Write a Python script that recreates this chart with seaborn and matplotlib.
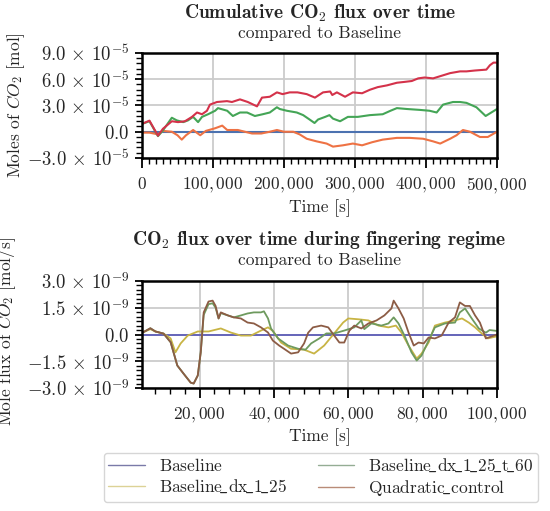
import numpy as np
import pandas as pd
import matplotlib
matplotlib.use("Agg")
import matplotlib.pyplot as plt
import seaborn as sns
from matplotlib.ticker import MultipleLocator, FuncFormatter
from matplotlib.lines import Line2D

# -------- data --------
# top panel: cumulative CO2 difference vs Baseline, values in 1e-5 mol
t_base_cum = [0, 500000]
v_base_cum = [0.0, 0.0]

t_dx_cum = [0, 10500, 22500, 29500, 42000, 50000, 56000, 62000, 72000, 82000, 90000,
            103000, 113000, 120000, 135000, 145000, 155000, 168000, 180000, 190000,
            200000, 213000, 222000, 232000, 246000, 260000, 269000, 283000, 297000,
            310000, 324000, 339000, 359000, 377000, 396000, 410000, 420000, 434000,
            443000, 452000, 462000, 476000, 487000, 500000]
v_dx_cum = [-0.1, -0.1, -0.3, 0.1, 0.0, -0.4, -0.9, -0.4, 0.2, -0.4, 0.1,
            0.4, 0.7, 0.2, 0.2, 0.0, -0.2, -0.2, 0.0, 0.2,
            0.0, 0.0, -0.3, -0.8, -1.1, -1.35, -1.7, -1.55, -1.35,
            -1.55, -1.2, -0.9, -0.7, -0.7, -0.8, -1.1, -1.35, -0.8,
            -0.4, 0.2, 0.0, -0.6, -0.6, 0.0]

t_t60_cum = [0, 10500, 22500, 29500, 42000, 49000, 58000, 64800, 72000, 79000, 84500,
             93000, 103000, 107000, 120000, 128000, 138000, 148000, 159000, 170000,
             180000, 190000, 194000, 204000, 218000, 227000, 236000, 243000, 248000,
             258000, 264000, 269000, 279000, 290000, 304000, 321000, 339000, 350000,
             359000, 373000, 391000, 405000, 415000, 424000, 438000, 448000, 457000,
             471000, 484000, 500000]
v_t60_cum = [0.9, 1.2, -0.5, 0.15, 1.6, 1.3, 1.1, 1.3, 1.7, 1.1, 1.7,
             2.0, 2.4, 2.7, 2.4, 1.8, 2.2, 2.2, 1.8, 2.0,
             2.2, 2.8, 2.6, 2.4, 2.2, 1.9, 1.4, 1.0, 1.4,
             1.7, 1.9, 1.5, 1.2, 1.7, 1.7, 1.9, 2.0, 2.4,
             2.7, 2.6, 2.5, 2.4, 2.2, 3.1, 3.4, 3.4, 3.3,
             2.8, 1.8, 2.6]

t_quad_cum = [0, 10500, 22500, 29500, 42000, 50700, 60500, 70400, 77500, 84500, 91500,
              95700, 105600, 119700, 126700, 138000, 149000, 162000, 169000, 180000,
              190000, 198000, 208000, 219000, 232000, 243600, 255000, 265000, 268000,
              274500, 286000, 297000, 310000, 321000, 332000, 345000, 359000, 370000,
              380000, 389000, 398000, 410000, 422000, 434000, 448000, 457000, 469000,
              485000, 490000, 495000, 500000]
v_quad_cum = [0.9, 1.27, -0.45, 0.34, 1.2, 1.1, 1.2, 1.7, 2.2, 2.0, 2.4,
              3.1, 3.4, 3.5, 3.4, 3.7, 3.4, 2.9, 3.9, 4.0,
              4.5, 4.3, 4.5, 4.5, 4.3, 3.9, 4.5, 4.6, 4.2,
              4.5, 4.0, 4.5, 4.4, 4.8, 5.1, 5.3, 5.6, 5.7,
              5.8, 6.1, 6.2, 6.1, 6.4, 6.7, 6.9, 6.9, 7.0,
              7.1, 7.6, 7.9, 7.9]

# bottom panel: CO2 flux difference vs Baseline, values in 1e-9 mol/s
t_base_flux = [4500, 100000]
v_base_flux = [0.0, 0.0]

t_dx_flux = [4850, 6750, 8100, 10300, 12200, 13500, 14900, 16800, 19500, 22400, 25700,
             28400, 31100, 33800, 36500, 38400, 39700, 41900, 44600, 48100, 50800,
             53500, 56200, 58600, 60000, 62900, 65400, 68100, 70800, 72800, 74300,
             76200, 78400, 79700, 81600, 83300, 86000, 88700, 90600, 92400, 94100,
             95900, 97500, 100000]
v_dx_flux = [0.13, 0.3, 0.17, 0.05, -0.22, -1.0, -0.5, -0.06, 0.17, 0.17, 0.34,
             0.11, -0.06, -0.06, 0.22, 0.4, 0.2, -0.45, -0.8, -0.85, -1.07,
             -0.62, 0.06, 0.67, 0.9, 0.85, 0.79, 0.5, 0.4, 0.5, 0.11,
             -0.62, -1.35, -1.07, -0.45, 0.5, 0.67, 0.79, 0.9, 0.67, 0.4,
             0.06, -0.22, -0.1]

t_t60_flux = [4850, 6750, 8100, 10300, 12200, 14000, 15700, 17600, 18400, 19500, 20300,
              21100, 22400, 23500, 24300, 25100, 25700, 27600, 29200, 31100, 32900,
              34600, 36500, 37300, 38400, 39200, 41100, 43800, 46500, 48500, 50000,
              52200, 54100, 56200, 58900, 61600, 63500, 64300, 66200, 68900, 70800,
              72200, 73500, 75100, 77000, 78400, 79700, 81600, 83300, 86000, 88700,
              90000, 91400, 93200, 95100, 97000, 98000, 100000]
v_t60_flux = [0.13, 0.35, 0.17, 0.05, -0.43, -1.74, -2.2, -2.7, -2.75, -2.3, -1.0,
              1.1, 1.7, 1.75, 1.5, 0.9, 1.2, 1.07, 0.96, 1.07, 1.18,
              1.24, 1.24, 1.3, 0.9, 0.34, -0.22, -0.62, -0.8, -0.85, -0.5,
              -0.22, 0.06, 0.06, 0.22, 0.4, 0.79, 0.3, 0.62, 0.5, 0.62,
              0.96, 0.62, -0.06, -1.0, -1.46, -1.18, -0.34, 0.4, 0.62, 0.67,
              1.24, 1.46, 0.9, 0.34, 0.1, 0.25, 0.2]

t_quad_flux = [4850, 6750, 8100, 10300, 12200, 14000, 15700, 17600, 18400, 19500, 20300,
               21100, 22400, 23500, 24300, 25100, 25700, 27600, 29200, 31100, 32900,
               34600, 36500, 38400, 39700, 41400, 42700, 44600, 46500, 48100, 49200,
               50500, 52700, 54600, 56200, 57600, 58900, 60300, 61600, 63500, 65400,
               67600, 69700, 71600, 72200, 73500, 74900, 76200, 77600, 78900, 80300,
               81600, 83300, 85100, 87000, 88700, 90000, 91400, 92700, 94100, 95400,
               97000, 100000]
v_quad_flux = [0.13, 0.35, 0.17, 0.05, -0.43, -1.74, -2.2, -2.7, -2.75, -2.3, -1.0,
               1.24, 1.85, 1.9, 1.6, 0.9, 1.24, 1.07, 0.96, 0.9, 0.67,
               0.62, 0.4, 0.11, -0.34, -0.62, -0.8, -1.07, -1.0, -0.5, 0.1,
               0.4, 0.5, 0.4, -0.06, -0.45, -0.45, 0.22, 0.5, 0.34, 0.62,
               0.79, 1.07, 1.46, 1.9, 1.46, 0.9, 0.11, -0.62, -0.45, -0.5,
               -0.17, -0.22, -0.06, 0.67, 0.96, 1.8, 1.6, 1.6, 1.07, 0.67,
               -0.22, 0.0]

series_names = ["Baseline", "Baseline_dx_1_25", "Baseline_dx_1_25_t_60", "Quadratic_control"]
top_colors = ["#4c72b0", "#ee7244", "#44a556", "#d4324a"]
bottom_colors = ["#5d5db8", "#c8b444", "#6e9a5e", "#8c5c45"]
legend_colors = ["#7a7aa8", "#dcd296", "#94ad94", "#b98c78"]

# -------- style --------
sns.set_theme(style="whitegrid")
plt.rcParams["font.family"] = ["cmr10", "DejaVu Serif"]
plt.rcParams["mathtext.fontset"] = "cm"
plt.rcParams["axes.unicode_minus"] = False
plt.rcParams["axes.formatter.use_mathtext"] = True
FS = 12.5
FS_Y = 13.5
FS_TITLE = 14


def sci_fmt(exp):
    def f(v, pos):
        m = v / 10.0 ** exp
        if abs(m) < 1e-9:
            return r"$0.0$"
        return r"$%.1f\,\times\,10^{%d}$" % (m, exp)
    return FuncFormatter(f)


def thou_fmt(v, pos):
    return r"$%s$" % f"{int(round(v)):,}"


def style_axes(ax):
    for s in ax.spines.values():
        s.set_color("black")
        s.set_linewidth(1.8)
    ax.grid(True, which="major", color="#cccccc", lw=1.3)
    ax.grid(False, which="minor")
    ax.tick_params(axis="x", which="major", direction="out", length=7, width=1.3,
                   color="black", labelsize=FS, bottom=True, pad=6)
    ax.tick_params(axis="y", which="major", direction="out", length=5, width=1.3,
                   color="black", labelsize=FS_Y, left=True, pad=4)
    ax.tick_params(which="minor", direction="out", length=4, width=1.0,
                   color="black", bottom=True, left=True)


fig = plt.figure(figsize=(5.5, 5.11), dpi=100)
ax1 = fig.add_axes([142 / 550, 1 - 158 / 511, 355 / 550, 105 / 511])
ax2 = fig.add_axes([142 / 550, 1 - 388 / 511, 355 / 550, 107 / 511])
xc = (142 + 355 / 2) / 550

# -------- top panel --------
top_data = [(t_base_cum, v_base_cum), (t_dx_cum, v_dx_cum),
            (t_t60_cum, v_t60_cum), (t_quad_cum, v_quad_cum)]
for (t, v), c in zip(top_data, top_colors):
    df = pd.DataFrame({"t": t, "v": np.array(v) * 1e-5})
    sns.lineplot(data=df, x="t", y="v", ax=ax1, color=c, lw=1.5)

ax1.set_xlim(0, 500000)
ax1.set_ylim(-3e-5, 9e-5)
ax1.xaxis.set_major_locator(MultipleLocator(100000))
ax1.xaxis.set_minor_locator(MultipleLocator(10000))
ax1.yaxis.set_major_locator(MultipleLocator(3e-5))
ax1.yaxis.set_minor_locator(MultipleLocator(6e-6))
ax1.xaxis.set_major_formatter(FuncFormatter(thou_fmt))
ax1.yaxis.set_major_formatter(sci_fmt(-5))
style_axes(ax1)
ax1.set_xlabel("Time [s]", fontsize=FS, labelpad=2)
ax1.set_ylabel(r"Moles of $CO_2$ [mol]", fontsize=FS)
ax1.yaxis.set_label_coords(-0.325, 0.5)
fig.text(xc, 1 - 13 / 511, r"Cumulative CO$_\mathbf{2}$ flux over time",
         ha="center", va="center", fontsize=FS_TITLE, family="cmb10")
fig.text(xc, 1 - 33 / 511, "compared to Baseline",
         ha="center", va="center", fontsize=FS)

# -------- bottom panel --------
bot_data = [(t_base_flux, v_base_flux), (t_dx_flux, v_dx_flux),
            (t_t60_flux, v_t60_flux), (t_quad_flux, v_quad_flux)]
for (t, v), c in zip(bot_data, bottom_colors):
    df = pd.DataFrame({"t": t, "v": np.array(v) * 1e-9})
    sns.lineplot(data=df, x="t", y="v", ax=ax2, color=c, lw=1.3)

ax2.set_xlim(4500, 100000)
ax2.set_ylim(-3e-9, 3e-9)
ax2.xaxis.set_major_locator(MultipleLocator(20000))
ax2.xaxis.set_minor_locator(MultipleLocator(4000))
ax2.yaxis.set_major_locator(MultipleLocator(1.5e-9))
ax2.yaxis.set_minor_locator(MultipleLocator(2.5e-10))
ax2.xaxis.set_major_formatter(FuncFormatter(thou_fmt))
ax2.yaxis.set_major_formatter(sci_fmt(-9))
style_axes(ax2)
ax2.set_xlabel("Time [s]", fontsize=FS, labelpad=2)
ax2.set_ylabel(r"Mole flux of $CO_2$ [mol/s]", fontsize=FS)
ax2.yaxis.set_label_coords(-0.35, 0.53)
fig.text(xc, 1 - 240 / 511, r"CO$_\mathbf{2}$ flux over time during fingering regime",
         ha="center", va="center", fontsize=FS_TITLE, family="cmb10")
fig.text(xc, 1 - 260 / 511, "compared to Baseline",
         ha="center", va="center", fontsize=FS)

# -------- legend --------
handles = [Line2D([], [], color=c, lw=1.0) for c in legend_colors]
labels = [r"$\mathrm{%s}$" % n.replace("_", r"\!\_") for n in series_names]
fig.legend(handles, labels, ncol=2,
           loc="center", bbox_to_anchor=(321 / 550, 1 - 477.5 / 511),
           fontsize=FS, frameon=True, edgecolor="#cccccc", fancybox=True,
           handlelength=2.1, columnspacing=1.8, borderpad=0.25, labelspacing=0.2,
           handletextpad=0.8)

fig.savefig("out.png", dpi=100)
